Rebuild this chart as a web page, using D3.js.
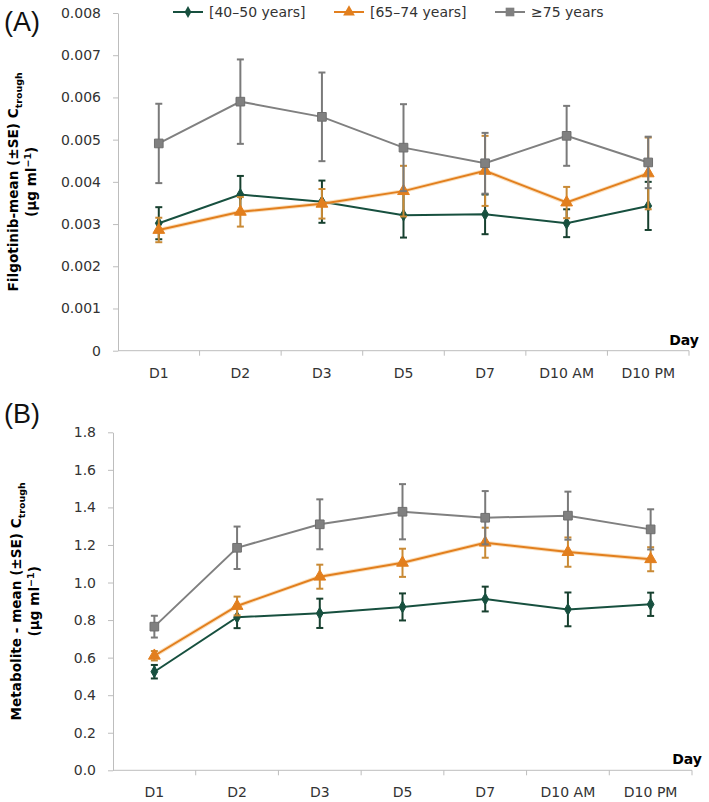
<!DOCTYPE html>
<html>
<head>
<meta charset="utf-8">
<script src="https://cdn.jsdelivr.net/npm/d3@7"></script>
<style>
  body { margin: 0; background: #fff; }
  svg { display: block; font-family: "DejaVu Sans", Verdana, sans-serif; }
</style>
</head>
<body>
<div id="chart"></div>
<script>
// categories + series
const days = ["D1", "D2", "D3", "D5", "D7", "D10 AM", "D10 PM"];
const groups = ["[40\u201350 years]", "[65\u201374 years]", "\u226575 years"];

// (A) filgotinib, mean and SE
const filgoMean40 = [0.00302, 0.00370, 0.00353, 0.00321, 0.00323, 0.00302, 0.00343];
const filgoSE40   = [0.00038, 0.00044, 0.00050, 0.00053, 0.00047, 0.00033, 0.00057];
const filgoMean65 = [0.00286, 0.00329, 0.00348, 0.00378, 0.00426, 0.00351, 0.00420];
const filgoSE65   = [0.00029, 0.00035, 0.00035, 0.00060, 0.00083, 0.00037, 0.00085];
const filgoMean75 = [0.00491, 0.00590, 0.00554, 0.00481, 0.00444, 0.00509, 0.00446];
const filgoSE75   = [0.00094, 0.00100, 0.00105, 0.00103, 0.00072, 0.00071, 0.00061];

// (B) metabolite, mean and SE
const metaMean40 = [0.525, 0.815, 0.836, 0.870, 0.912, 0.857, 0.884];
const metaSE40   = [0.036, 0.058, 0.078, 0.072, 0.066, 0.090, 0.062];
const metaMean65 = [0.610, 0.875, 1.031, 1.105, 1.212, 1.162, 1.124];
const metaSE65   = [0.025, 0.050, 0.064, 0.075, 0.080, 0.078, 0.064];
const metaMean75 = [0.765, 1.185, 1.310, 1.377, 1.345, 1.356, 1.283];
const metaSE75   = [0.058, 0.113, 0.133, 0.147, 0.142, 0.128, 0.107];

const filgoTicks = [0, 0.001, 0.002, 0.003, 0.004, 0.005, 0.006, 0.007, 0.008];
const metaTicks = [0, 0.2, 0.4, 0.6, 0.8, 1.0, 1.2, 1.4, 1.6, 1.8];

const colors = ["#17503f", "#e27f1e", "#808080"];
const barColors = ["#17402f", "#c98a35", "#7a7a7a"];
const markers = [d3.symbolDiamond, d3.symbolTriangle, d3.symbolSquare];
const markerSize = [40, 60, 75];

const W = 709, H = 802;
const axisCol = "#bdbdbd";
const textCol = "#333";

let svg = d3.select("#chart").append("svg")
	.attr("width", W).attr("height", H);

function drawPanel(opt) {
	let g = svg.append("g");

	let x = d3.scaleBand().domain(days).range([opt.x0, opt.x1]).padding(0);
	let y = d3.scaleLinear().domain([0, opt.max]).range([opt.yb, opt.yt]);

	// y axis
	let yAxis = d3.axisLeft(y).tickValues(opt.ticks).tickFormat(opt.fmt)
		.tickSize(5).tickSizeOuter(0).tickPadding(12);
	let ya = g.append("g").attr("transform", "translate(" + opt.x0 + ",0)").call(yAxis);
	ya.select(".domain").attr("stroke", axisCol);
	ya.selectAll(".tick line").attr("stroke", axisCol);
	ya.selectAll("text").attr("fill", textCol).style("font-size", "14px")
		.style("font-family", '"DejaVu Sans", Verdana, sans-serif');

	// x axis: line, ticks between categories, labels
	g.append("line").attr("x1", opt.x0).attr("x2", opt.x1)
		.attr("y1", opt.yb).attr("y2", opt.yb).attr("stroke", axisCol);
	g.selectAll(".xt").data(d3.range(1, days.length + 1)).enter().append("line")
		.attr("x1", i => opt.x0 + i * x.step()).attr("x2", i => opt.x0 + i * x.step())
		.attr("y1", opt.yb).attr("y2", opt.yb + 5).attr("stroke", axisCol);
	g.selectAll(".xl").data(days).enter().append("text")
		.attr("x", d => x(d) + x.bandwidth() / 2).attr("y", opt.yb + 27)
		.attr("text-anchor", "middle").attr("fill", textCol).style("font-size", "14px")
		.text(d => d);

	g.append("text").attr("x", opt.x1 + 10).attr("y", opt.yb - 6)
		.attr("text-anchor", "end").attr("font-weight", "bold").style("font-size", "14px")
		.attr("fill", "#000").text("Day");

	// panel letter
	g.append("text").attr("x", 4).attr("y", opt.yt + opt.letterDy)
		.style("font-family", '"Liberation Sans", Arial, sans-serif').style("font-size", "27px")
		.attr("fill", "#111").text(opt.letter);

	// y title, two lines
	let cy = (opt.yt + opt.yb) / 2;
	let t1 = g.append("text").attr("transform", "translate(" + opt.lx1 + "," + cy + ") rotate(-90)")
		.attr("text-anchor", "middle").attr("font-weight", "bold").style("font-size", "13.6px")
		.attr("dy", "0.35em").attr("fill", "#000");
	t1.append("tspan").text(opt.title + " (\u00b1SE) C");
	t1.append("tspan").attr("dy", 4).style("font-size", "9.5px").text("trough");
	let t2 = g.append("text").attr("transform", "translate(" + opt.lx2 + "," + cy + ") rotate(-90)")
		.attr("text-anchor", "middle").attr("font-weight", "bold").style("font-size", "13.6px")
		.attr("dy", "0.35em").attr("fill", "#000");
	t2.append("tspan").text("(\u00b5g ml");
	t2.append("tspan").attr("dy", -5).style("font-size", "9.5px").text("\u22121");
	t2.append("tspan").attr("dy", 5).text(")");

	// series
	opt.means.forEach(function(m, s) {
		let se = opt.ses[s];
		let pts = days.map((d, i) => ({ d: d, v: m[i], e: se[i] }));
		let sg = g.append("g");
		let line = d3.line().x(p => x(p.d) + x.bandwidth() / 2).y(p => y(p.v));

		if (s == 1)
			sg.append("path").attr("d", line(pts)).attr("fill", "none")
				.attr("stroke", "#f6c98f").attr("stroke-width", 4).attr("opacity", 0.6);
		sg.append("path").attr("d", line(pts)).attr("fill", "none")
			.attr("stroke", colors[s]).attr("stroke-width", 2);

		// error bars
		let eb = sg.selectAll(".eb").data(pts).enter().append("g")
			.attr("transform", p => "translate(" + (x(p.d) + x.bandwidth() / 2) + ",0)");
		eb.append("line").attr("x1", 0).attr("x2", 0)
			.attr("y1", p => y(p.v + p.e)).attr("y2", p => y(p.v - p.e))
			.attr("stroke", barColors[s]).attr("stroke-width", 2);
		[1, -1].forEach(function(k) {
			eb.append("line").attr("x1", -3.5).attr("x2", 3.5)
				.attr("y1", p => y(p.v + k * p.e)).attr("y2", p => y(p.v + k * p.e))
				.attr("stroke", barColors[s]).attr("stroke-width", 2);
		});

		sg.selectAll(".mk").data(pts).enter().append("path")
			.attr("d", d3.symbol().type(markers[s]).size(markerSize[s]))
			.attr("transform", p => "translate(" + (x(p.d) + x.bandwidth() / 2) + "," + y(p.v) + ")")
			.attr("fill", colors[s]).attr("stroke", s == 2 ? "#6f6f6f" : colors[s]).attr("stroke-width", 1);
	});
}

drawPanel({
	x0: 118, x1: 689, yt: 13, yb: 350.7, max: 0.008, ticks: filgoTicks,
	fmt: d => d === 0 ? "0" : d3.format(".3f")(d),
	means: [filgoMean40, filgoMean65, filgoMean75], ses: [filgoSE40, filgoSE65, filgoSE75],
	letter: "(A)", letterDy: 18, title: "Filgotinib-mean", lx1: 13, lx2: 31
});

drawPanel({
	x0: 113, x1: 692, yt: 432.3, yb: 770.3, max: 1.8, ticks: metaTicks,
	fmt: d3.format(".1f"),
	means: [metaMean40, metaMean65, metaMean75], ses: [metaSE40, metaSE65, metaSE75],
	letter: "(B)", letterDy: -9, title: "Metabolite - mean", lx1: 16, lx2: 34
});

// legend
const legX = [173, 334, 495];
let leg = svg.append("g").selectAll("g").data(groups).enter().append("g")
	.attr("transform", (d, i) => "translate(" + legX[i] + ",12)");
leg.append("line").attr("x1", 0).attr("x2", 30).attr("stroke", (d, i) => colors[i]).attr("stroke-width", 2);
leg.append("path").attr("d", (d, i) => d3.symbol().type(markers[i]).size(markerSize[i])())
	.attr("transform", "translate(15,0)").attr("fill", (d, i) => colors[i]);
leg.append("text").attr("x", 36).attr("dy", "0.35em").style("font-size", "14px")
	.attr("fill", textCol).text(d => d);
</script>
</body>
</html>
